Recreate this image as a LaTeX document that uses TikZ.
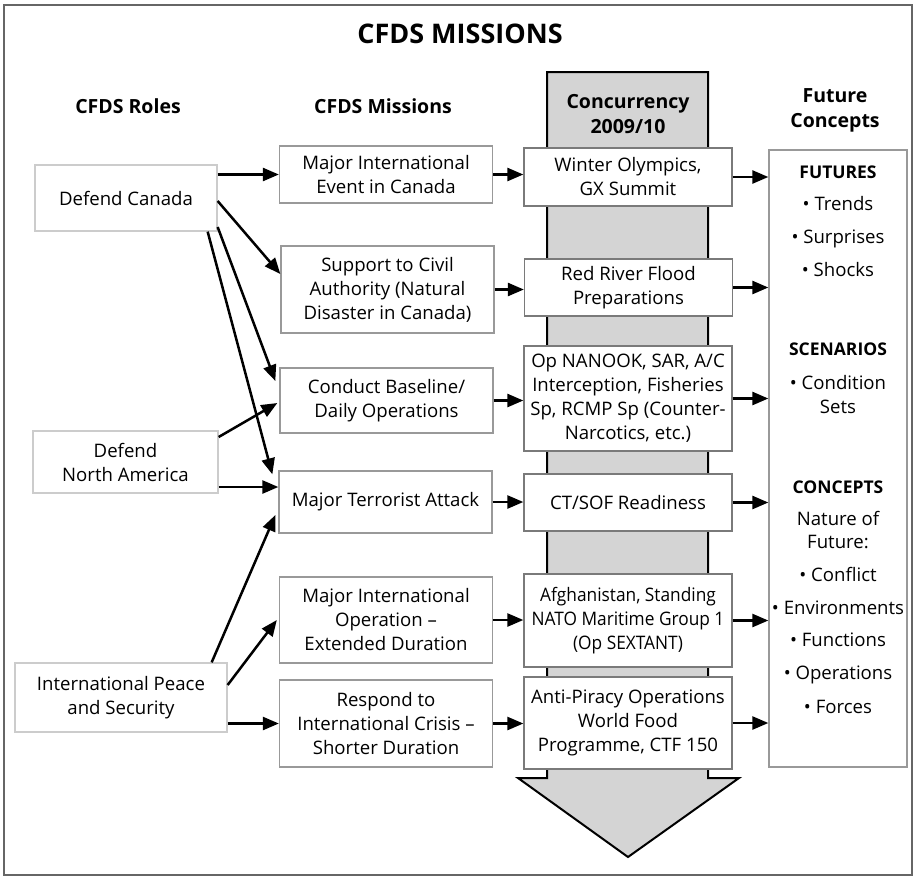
\documentclass[tikz,border=0pt]{standalone}
\usepackage{fontspec}
\setmainfont{Open Sans}
\usetikzlibrary{arrows.meta,calc}

\definecolor{shaftgray}{HTML}{D4D4D4}
\definecolor{roleline}{HTML}{CCCCCC}
\definecolor{missionline}{HTML}{999999}
\definecolor{concline}{HTML}{7A7A7A}
\definecolor{frameline}{HTML}{666666}

\tikzset{
  body/.style={font=\fontsize{18.6}{24}\selectfont, align=center},
  box/.style={body, draw, fill=white, line width=1.3pt, inner sep=0pt},
  rolebox/.style={box, draw=roleline},
  missionbox/.style={box, draw=missionline, minimum width=213},
  concbox/.style={box, draw=concline, minimum width=208},
  narrow/.style={font=\fontsize{18.6}{24}\selectfont\addfontfeature{FakeStretch=0.93}},
  colhead/.style={font=\bfseries\fontsize{19.5}{25}\selectfont, align=center},
  ftext/.style={font=\fontsize{18.6}{24}\selectfont, anchor=base},
  fhead/.style={font=\bfseries\fontsize{17.5}{22}\selectfont, anchor=base},
  link/.style={line width=2.5pt, -{Triangle[length=16pt,width=13pt]}},
}

\begin{document}
\begin{tikzpicture}[x=1pt,y=-1pt]
\useasboundingbox (0,0) rectangle (918,879);

% outer frame
\draw[frameline, line width=1.5pt] (4,5) rectangle (912,875);

% title and column headings
\node[font=\bfseries\fontsize{27}{30}\selectfont] (title) at (460,34) {CFDS MISSIONS};
\node[colhead] (hroles) at (128,106) {CFDS Roles};
\node[colhead] (hmissions) at (383,106) {CFDS Missions};

% concurrency arrow
\draw[line width=2pt, fill=shaftgray, line join=miter]
  (547,72) -- (708,72) -- (708,778) -- (739,778) -- (628,857)
  -- (518,778) -- (547,778) -- cycle;
\node[colhead] (hconc) at (628,114) {Concurrency\\2009/10};
\node[colhead] (hfut) at (835,110) {Future\\Concepts};

% roles
\node[rolebox, minimum width=182, minimum height=66] (dc) at (126,198) {Defend Canada};
\node[rolebox, minimum width=185, minimum height=62] (dna) at (125.5,462) {Defend\\North America};
\node[rolebox, minimum width=212, minimum height=69] (ip) at (121,697.5) {International Peace\\and Security};

% missions
\node[missionbox, minimum height=57] (event) at (386,174.5) {Major International\\Event in Canada};
\node[missionbox, minimum height=87] (support) at (387.5,289.5) {Support to Civil\\Authority (Natural\\Disaster in Canada)};
\node[missionbox, minimum height=65] (conduct) at (386.5,400.5) {Conduct Baseline/\\Daily Operations};
\node[missionbox, minimum height=62] (terror) at (385.5,502) {Major Terrorist Attack};
\node[missionbox, minimum height=86] (majorop) at (386,620) {Major International\\Operation –\\Extended Duration};
\node[missionbox, minimum height=87] (respond) at (386,723.5) {Respond to\\International Crisis –\\Shorter Duration};

% concurrency 2009/10
\node[concbox, minimum height=58] (winter) at (628,177) {Winter Olympics,\\GX Summit};
\node[concbox, minimum height=57] (redriver) at (628.5,287.5) {Red River Flood\\Preparations};
\node[concbox, minimum height=105] (nanook) at (628,398.5) {Op NANOOK, SAR, A/C\\Interception, Fisheries\\Sp, RCMP Sp (Counter-\\Narcotics, etc.)};
\node[concbox, minimum height=57] (ctsof) at (628,502.5) {CT/SOF Readiness};
\node[concbox, narrow, minimum height=93] (afghan) at (628,620.5) {Afghanistan, Standing\\NATO Maritime Group 1\\(Op SEXTANT)};
\node[concbox, minimum height=92] (antipiracy) at (628,723) {Anti-Piracy Operations\\World Food\\Programme, CTF 150};

% future concepts
\node[box, draw=missionline, minimum width=138, minimum height=617] (future) at (838,458.5) {};
\node[fhead] (tfutures) at (838,178) {FUTURES};
\node[ftext] (ttrends) at (838,210.5) {• Trends};
\node[ftext] (tsurprises) at (838,243.5) {• Surprises};
\node[ftext] (tshocks) at (838,276.5) {• Shocks};
\node[fhead] (tscen) at (838,355) {SCENARIOS};
\node[ftext] (tcond) at (838,389.5) {• Condition};
\node[ftext] (tsets) at (838,413.5) {Sets};
\node[fhead] (tconc) at (838,493) {CONCEPTS};
\node[ftext] (tnature) at (838,525.5) {Nature of};
\node[ftext] (tfuture) at (838,548.5) {Future:};
\node[ftext] (tconflict) at (838,581.5) {• Conflict};
\node[ftext] (tenv) at (838,614.5) {• Environments};
\node[ftext] (tfunc) at (838,646.5) {• Functions};
\node[ftext] (tops) at (838,679.5) {• Operations};
\node[ftext] (tforces) at (838,713.5) {• Forces};

% roles to missions
\draw[link] (dc.east |- event.west) -- (event.west);
\draw[link] ([yshift=-3pt]dc.east) -- ([yshift=15.5pt]support.west);
\draw[link] ([yshift=-29pt]dc.east) -- ([xshift=-4pt,yshift=19.5pt]conduct.west);
\draw[link] ([xshift=-10pt]dc.south east) -- ([xshift=-6pt,yshift=-4pt]terror.north west);
\draw[link] ([yshift=25pt]dna.east) -- ([xshift=-2pt,yshift=-2.5pt]conduct.west);
\draw[link] ([yshift=-25pt]dna.east) -- ([yshift=15pt]terror.west);
\draw[link] ([xshift=-16pt]ip.north east) -- ([xshift=-3pt,yshift=-13pt]terror.west);
\draw[link] ([yshift=12.5pt]ip.east) -- ([xshift=-2pt]majorop.west);
\draw[link] (ip.east |- respond.west) -- (respond.west);

% missions to concurrency
\draw[link] (event.east) -- (event.east -| winter.west);
\draw[link] (support.east) -- (support.east -| redriver.west);
\draw[link] (conduct.east) -- (conduct.east -| nanook.west);
\draw[link] (terror.east) -- (terror.east -| ctsof.west);
\draw[link] (majorop.east) -- (majorop.east -| afghan.west);
\draw[link] (respond.east) -- (respond.east -| antipiracy.west);

% concurrency to future concepts
\draw[link] (winter.east) -- (winter.east -| future.west);
\draw[link] (redriver.east) -- (redriver.east -| future.west);
\draw[link] (nanook.east) -- (nanook.east -| future.west);
\draw[link] (ctsof.east) -- (ctsof.east -| future.west);
\draw[link] (afghan.east) -- (afghan.east -| future.west);
\draw[link] (antipiracy.east) -- (antipiracy.east -| future.west);
\end{tikzpicture}
\end{document}
